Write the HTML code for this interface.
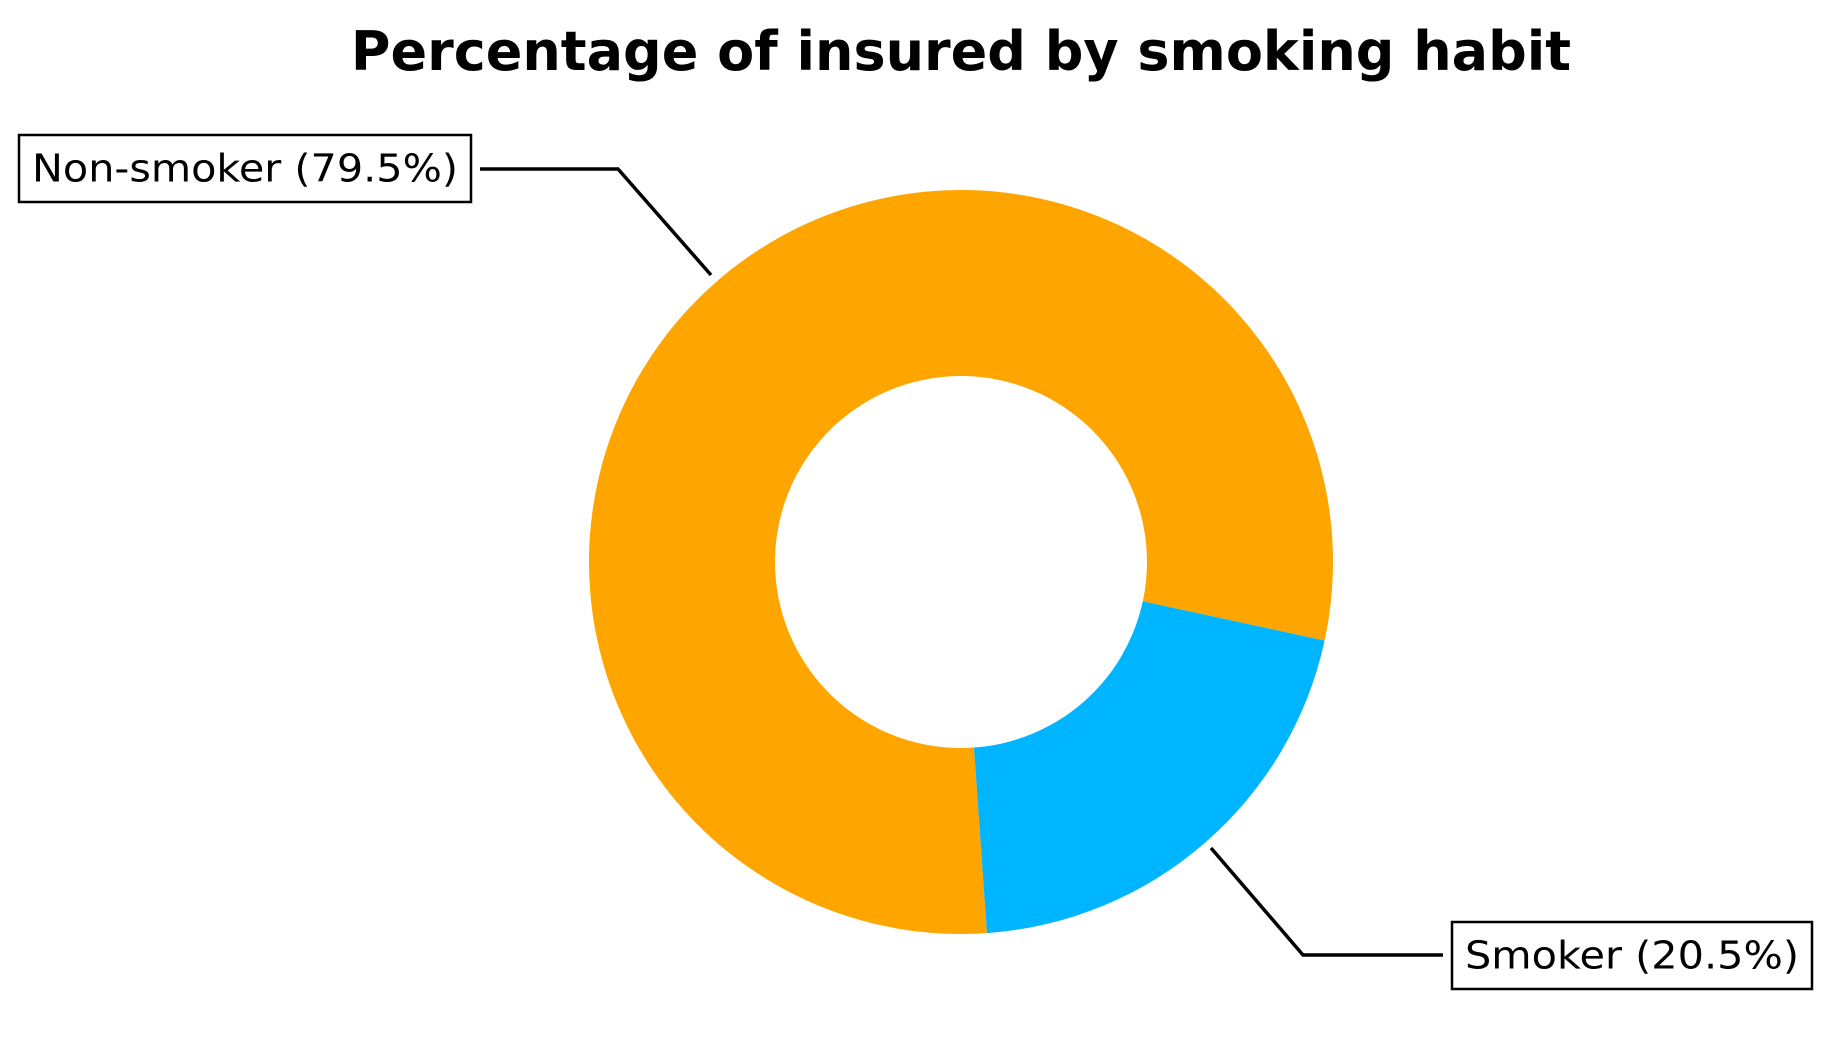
<!DOCTYPE html>
<html><head><meta charset="utf-8"><style>
html,body{margin:0;padding:0;background:#fff;overflow:hidden;}
svg{display:block;font-family:"DejaVu Sans","Liberation Sans",sans-serif;}
</style></head><body>
<svg id="chart" width="1828" height="1056" viewBox="0 0 1828 1056">
<text x="961" y="70" text-anchor="middle" font-size="54" font-weight="bold" fill="#000">Percentage of insured by smoking habit</text>
<g id="slices"></g>
<g id="labels"></g>
</svg>
<script>
const categories = ["Non-smoker", "Smoker"];
const values = [79.5, 20.5];
const colors = ["#FFA500", "#00B5FF"];
const cx = 961, cy = 562, R = 372, r = 186;
const startDeg = -86;
const ns = "http://www.w3.org/2000/svg";
const total = values.reduce((a,b)=>a+b,0);
function pt(deg, rad){const a=deg*Math.PI/180;return [cx+rad*Math.cos(a), cy-rad*Math.sin(a)];}
const g = document.getElementById('slices');
let cur = startDeg;
values.forEach((v,i)=>{
  const sweep = v/total*360;
  const a0 = cur, a1 = cur - sweep;
  const large = sweep>180?1:0;
  const p0=pt(a0,R), p1=pt(a1,R), q1=pt(a1,r), q0=pt(a0,r);
  const d=`M${p0[0]},${p0[1]} A${R},${R} 0 ${large} 1 ${p1[0]},${p1[1]} L${q1[0]},${q1[1]} A${r},${r} 0 ${large} 0 ${q0[0]},${q0[1]} Z`;
  const path=document.createElementNS(ns,'path');
  path.setAttribute('d',d);path.setAttribute('fill',colors[i]);
  
  
  g.appendChild(path);
  cur = a1;
});
const lg=document.getElementById('labels');
const boxes=[
  {x:19,y:135,w:452,h:67,line:"M711,275 L618,169 L480,169"},
  {x:1452,y:922,w:360,h:67,line:"M1211,848 L1303,955 L1443,955"}
];
categories.forEach((c,i)=>{
  const b=boxes[i];
  const pct=(values[i]/total*100).toFixed(1);
  const l=document.createElementNS(ns,'path');
  l.setAttribute('d',b.line);l.setAttribute('stroke','#000');l.setAttribute('stroke-width','3.5');l.setAttribute('fill','none');
  
  
  lg.appendChild(l);
  const rect=document.createElementNS(ns,'rect');
  rect.setAttribute('x',b.x);rect.setAttribute('y',b.y);rect.setAttribute('width',b.w);rect.setAttribute('height',b.h);
  rect.setAttribute('fill','#fff');rect.setAttribute('stroke','#000');rect.setAttribute('stroke-width','2.5');
  
  
  lg.appendChild(rect);
  const t=document.createElementNS(ns,'text');
  t.setAttribute('x',b.x+b.w/2);t.setAttribute('y',b.y+b.h/2+13);
  t.setAttribute('text-anchor','middle');t.setAttribute('font-size','38');
  t.setAttribute('textLength',b.w-26);t.setAttribute('lengthAdjust','spacingAndGlyphs');
  t.textContent=`${c} (${pct}%)`;
  
  
  lg.appendChild(t);
});
</script>
</body></html>
